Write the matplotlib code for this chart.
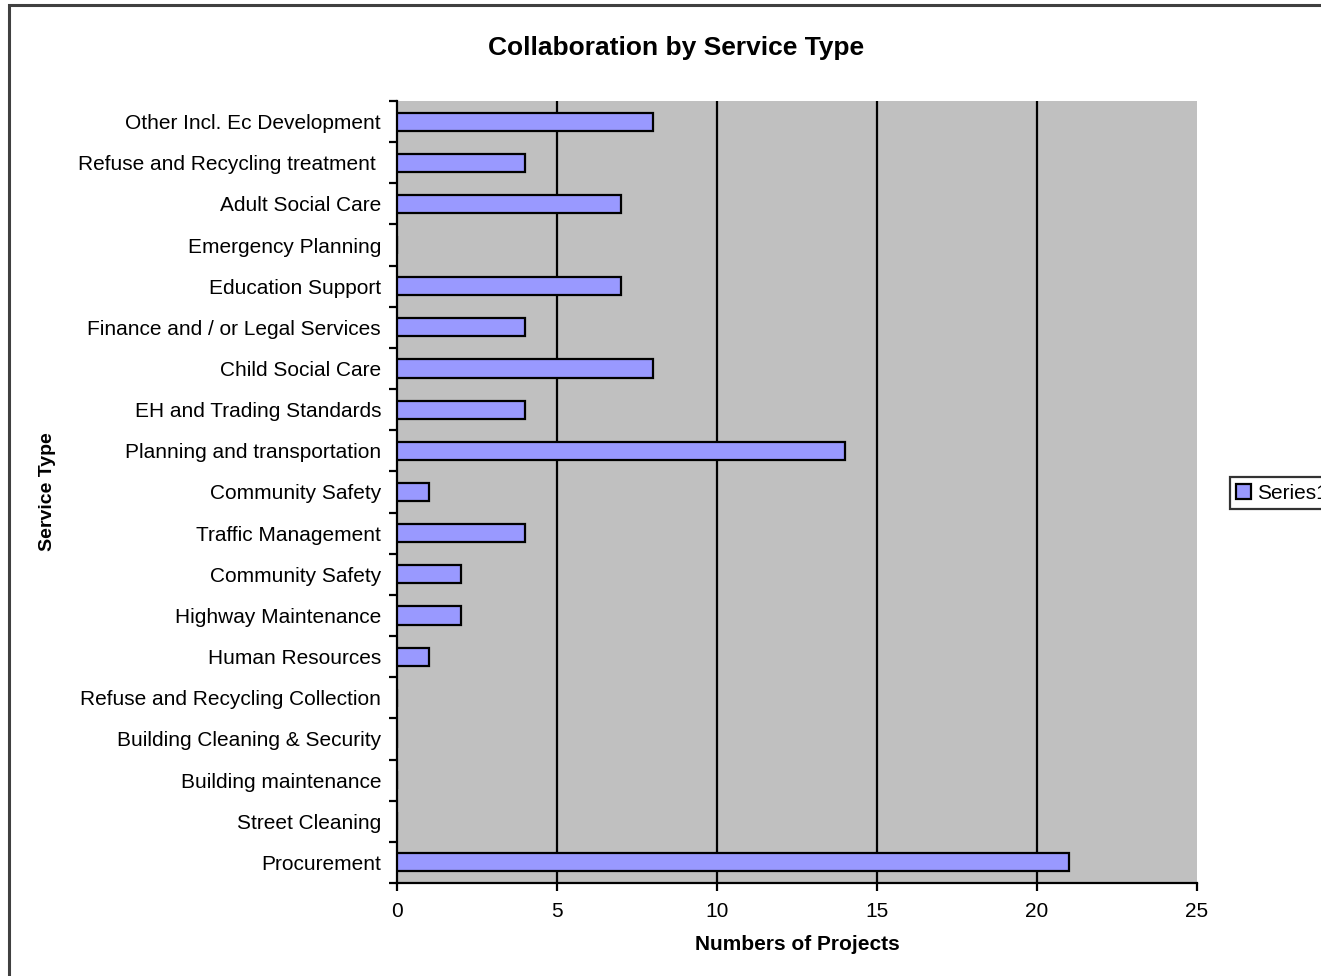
import matplotlib.pyplot as plt
import matplotlib.patches as patches

plt.rcParams['font.family'] = ['Liberation Sans', 'DejaVu Sans']

# service types, bottom to top as drawn on the y axis
services = [
    "Procurement",
    "Street Cleaning",
    "Building maintenance",
    "Building Cleaning & Security",
    "Refuse and Recycling Collection",
    "Human Resources",
    "Highway Maintenance",
    "Community Safety",
    "Traffic Management",
    "Community Safety",
    "Planning and transportation",
    "EH and Trading Standards",
    "Child Social Care",
    "Finance and / or Legal Services",
    "Education Support",
    "Emergency Planning",
    "Adult Social Care",
    "Refuse and Recycling treatment ",
    "Other Incl. Ec Development",
]
projects = [21, 0, 0, 0, 0, 1, 2, 2, 4, 1, 14, 4, 8, 4, 7, 0, 7, 4, 8]
x_ticks = [0, 5, 10, 15, 20, 25]

fs = 15

fig = plt.figure(figsize=(13.21, 9.76), dpi=100, facecolor='white')

# chart frame, runs off the right and bottom edges
frame = patches.Rectangle((9 / 1321, -0.05), 1.1, 1 - 5 / 976 + 0.05,
                          transform=fig.transFigure, fill=False,
                          edgecolor='#404040', linewidth=2.2, zorder=0)
fig.patches.append(frame)

ax = fig.add_axes([397 / 1321, 1 - 883 / 976, 800 / 1321, 782 / 976])
ax.set_facecolor('#C0C0C0')

pos = list(range(len(services)))
bars = ax.barh(pos, projects, height=0.44, color='#9999FF',
               edgecolor='black', linewidth=1.6, zorder=3, label='Series1')

ax.set_xlim(0, 25)
ax.set_ylim(-0.5, len(services) - 0.5)
ax.set_xticks(x_ticks)
ax.set_xticklabels([str(t) for t in x_ticks], fontsize=fs)

# category labels centred, tick marks on the category boundaries
ax.set_yticks(pos)
ax.set_yticklabels(services, fontsize=fs)
ax.tick_params(axis='y', which='major', length=0, pad=11.5)
ax.set_yticks([p - 0.5 for p in pos] + [len(services) - 0.5], minor=True)
ax.tick_params(axis='y', which='minor', length=6, width=1.6, direction='out')
ax.tick_params(axis='x', length=6, width=1.6, direction='out', pad=8)

for x in x_ticks[1:-1]:
    ax.axvline(x, color='black', linewidth=1.6, zorder=1)

for side in ['top', 'right']:
    ax.spines[side].set_visible(False)
ax.spines['left'].set_linewidth(1.6)
ax.spines['bottom'].set_linewidth(1.6)

fig.text(676 / 1321, 1 - 48 / 976, 'Collaboration by Service Type', fontsize=19,
         fontweight='bold', ha='center', va='center')
ax.set_xlabel('Numbers of Projects', fontsize=fs, fontweight='bold', labelpad=10)
fig.text(47 / 1321, 1 - 492 / 976, 'Service Type', rotation=90, fontsize=14,
         fontweight='bold', ha='center', va='center')

# legend sits at the right edge of the frame, partly outside the canvas
leg = fig.legend(handles=[bars], labels=['Series1'], loc='center left',
                 bbox_to_anchor=(1230 / 1321, 1 - 493 / 976), fontsize=fs,
                 frameon=True, fancybox=False, edgecolor='black',
                 handlelength=0.7, handleheight=0.7, handletextpad=0.3,
                 borderpad=0.3, borderaxespad=0)
leg.get_frame().set_linewidth(1.6)

fig.savefig('out.png', dpi=100, facecolor='white')
